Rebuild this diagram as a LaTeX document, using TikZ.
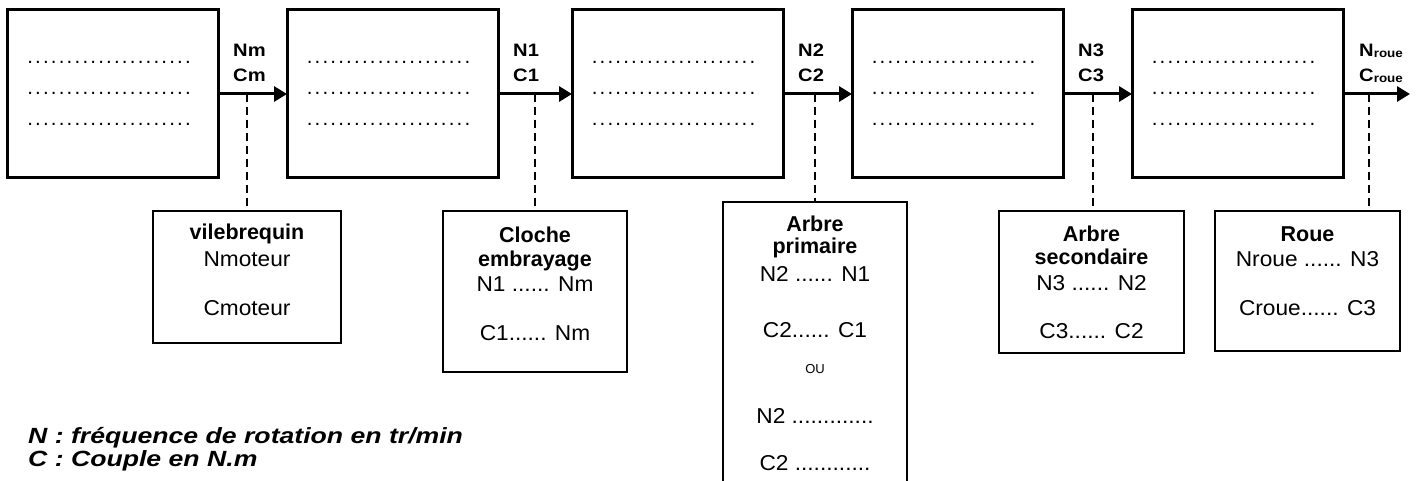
\documentclass[tikz,border=0pt]{standalone}
\usepackage{fontspec}
\setmainfont{Liberation Sans}
\usetikzlibrary{arrows.meta}
\tikzset{
  bigbox/.style={draw, line width=3pt, minimum width=211pt, minimum height=168pt, inner sep=0pt, outer sep=0pt},
  smallbox/.style={draw, line width=1.5pt, inner sep=0pt, outer sep=0pt},
  flow/.style={line width=3pt, -{Triangle[length=13pt,width=15pt]}},
  link/.style={line width=1.5pt, dash pattern=on 8pt off 5pt},
  txt/.style={inner sep=0pt, anchor=base, font=\fontsize{21.5}{24}\selectfont\addfontfeature{FakeStretch=1.055}},
  btxt/.style={inner sep=0pt, anchor=base, font=\bfseries\fontsize{21.5}{24}\selectfont},
  stxt/.style={inner sep=0pt, anchor=base, font=\fontsize{13}{14}\selectfont},
  lbl/.style={inner sep=0pt, anchor=base west, font=\bfseries\fontsize{18}{20}\selectfont\addfontfeature{FakeStretch=1.12}},
  dotrow/.style={inner sep=0pt, anchor=center, font=\fontsize{20.5}{24}\selectfont\addfontfeature{LetterSpace=10.7}},
  legend/.style={inner sep=0pt, anchor=base west, font=\bfseries\itshape\fontsize{22}{24}\selectfont\addfontfeature{FakeStretch=1.21}}
}
\newcommand{\dotline}{.....................}
\newcommand{\subroue}{\raisebox{-1pt}{\fontsize{12}{12}\selectfont roue}}
\begin{document}
\begin{tikzpicture}[x=1pt,y=-1pt]
\useasboundingbox (0,0) rectangle (1419,481);
% big boxes
\foreach \i/\cx in {1/113,2/392.5,3/677.5,4/957.5,5/1237.5}{
  \node[bigbox] (A\i) at (\cx,94) {};
  \node[dotrow] (d\i a) at (\cx-4,62) {\dotline};
  \node[dotrow] (d\i b) at (\cx-4,93) {\dotline};
  \node[dotrow] (d\i c) at (\cx-4,124) {\dotline};
}
\coordinate (out) at (1410,94);
\draw[flow] (A1.east) -- (A2.west);
\draw[flow] (A2.east) -- (A3.west);
\draw[flow] (A3.east) -- (A4.west);
\draw[flow] (A4.east) -- (A5.west);
\draw[flow] (A5.east) -- (out);
% labels
\node[lbl] (l1a) at (233,57) {Nm};
\node[lbl] (l1b) at (233,82) {Cm};
\node[lbl] (l2a) at (513,57) {N1};
\node[lbl] (l2b) at (513,82) {C1};
\node[lbl] (l3a) at (798,57) {N2};
\node[lbl] (l3b) at (798,82) {C2};
\node[lbl] (l4a) at (1078,57) {N3};
\node[lbl] (l4b) at (1078,82) {C3};
\node[lbl] (l5a) at (1359,57) {N\subroue};
\node[lbl] (l5b) at (1359,82) {C\subroue};
% junctions
\coordinate (j1) at (247,94);
\coordinate (j2) at (535,94);
\coordinate (j3) at (815,94);
\coordinate (j4) at (1093,94);
\coordinate (j5) at (1369,94);
% small boxes
\node[smallbox, minimum width=188pt, minimum height=132pt] (s1) at (247,277) {};
\node[smallbox, minimum width=184pt, minimum height=161pt] (s2) at (535,291.5) {};
\node[smallbox, minimum width=184pt, minimum height=288pt] (s3) at (815,346) {};
\node[smallbox, minimum width=185pt, minimum height=142pt] (s4) at (1091.5,282) {};
\node[smallbox, minimum width=185pt, minimum height=140pt] (s5) at (1307.5,281) {};
\foreach \i in {1,...,5}{ \draw[link] (j\i) -- (j\i |- s\i.north); }
% texts
\node[btxt] (t1a) at (247,240) {vilebrequin};
\node[txt] (t1b) at (247,266) {Nmoteur};
\node[txt] (t1c) at (247,315) {Cmoteur};
\node[btxt] (t2a) at (535,243) {Cloche};
\node[btxt] (t2b) at (535,266) {embrayage};
\node[txt] (t2c) at (535,291) {N1 ...... Nm};
\node[txt] (t2d) at (535,340) {C1...... Nm};
\node[btxt] (t3a) at (815,232) {Arbre};
\node[btxt] (t3b) at (815,254) {primaire};
\node[txt] (t3c) at (815,281) {N2 ...... N1};
\node[txt] (t3d) at (815,337) {C2...... C1};
\node[stxt] (t3e) at (815,373) {OU};
\node[txt] (t3f) at (815,423) {N2 .............};
\node[txt] (t3g) at (815,470) {C2 ............};
\node[btxt] (t4a) at (1091.5,242) {Arbre};
\node[btxt] (t4b) at (1091.5,265) {secondaire};
\node[txt] (t4c) at (1091.5,290) {N3 ...... N2};
\node[txt] (t4d) at (1091.5,338) {C3...... C2};
\node[btxt] (t5a) at (1307.5,242) {Roue};
\node[txt] (t5b) at (1307.5,266) {Nroue ...... N3};
\node[txt] (t5c) at (1307.5,315) {Croue...... C3};
% legend
\node[legend] (g1) at (28,443) {N : fréquence de rotation en tr/min};
\node[legend] (g2) at (28,466) {C : Couple en N.m};
\end{tikzpicture}
\end{document}
